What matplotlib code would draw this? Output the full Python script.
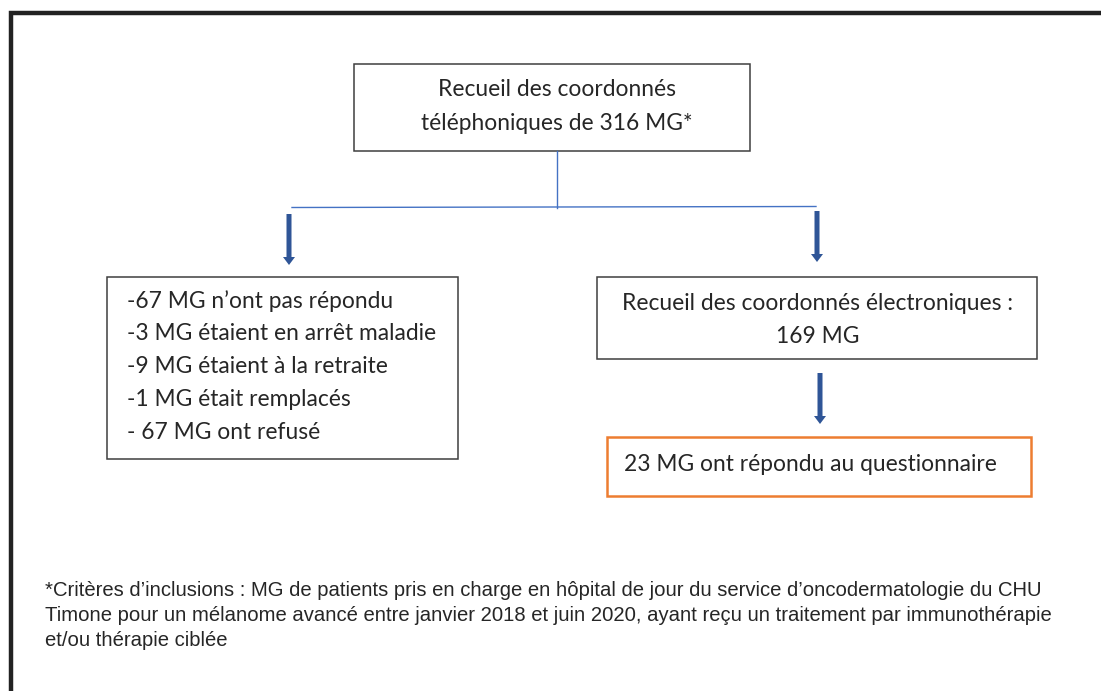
import matplotlib
matplotlib.use("Agg")
import matplotlib.pyplot as plt
from matplotlib.patches import Rectangle, FancyArrow

# Flowchart counts (number of GPs, "MG")
n_total = 316
exclusions = [67, 3, 9, 1, 67]
exclusion_labels = ["-{} MG n\u2019ont pas répondu",
                    "-{} MG étaient en arrêt maladie",
                    "-{} MG étaient à la retraite",
                    "-{} MG était remplacés",
                    "- {} MG ont refusé"]
n_email = 169
n_answered = 23

footnote_lines = [
    "*Critères d\u2019inclusions : MG de patients pris en charge en hôpital de jour du service d\u2019oncodermatologie du CHU",
    "Timone pour un mélanome avancé entre janvier 2018 et juin 2020, ayant reçu un traitement par immunothérapie",
    "et/ou thérapie ciblée",
]

box_font = "Lato"
box_size = 16.4
text_col = "#262626"
edge_col = "#3f3f3f"
blue_line = "#4472C4"
arrow_col = "#2F5597"
orange = "#ED7D31"

fig = plt.figure(figsize=(11.01, 6.91), dpi=100)
ax = fig.add_axes([0, 0, 1, 1])
ax.set_xlim(0, 1101)
ax.set_ylim(691, 0)
ax.axis("off")

# outer frame (only left and top edges visible)
ax.plot([10.5, 10.5, 1101], [691, 13, 13], color="#222222", lw=3.2,
        solid_joinstyle="miter")

def box(x0, y0, x1, y1, color=edge_col, lw=1.1):
    ax.add_patch(Rectangle((x0, y0), x1 - x0, y1 - y0, fill=False,
                           edgecolor=color, lw=lw))

# top box
box(354, 64, 750, 151)
ax.text(557, 89, "Recueil des coordonnés", ha="center", va="center",
        family=box_font, size=box_size, color=text_col)
ax.text(557, 123, "téléphoniques de {} MG*".format(n_total), ha="center",
        va="center", family=box_font, size=box_size, color=text_col)

# connectors
ax.plot([557, 557], [151, 208], color=blue_line, lw=1)
ax.plot([292, 816], [207.5, 206.5], color=blue_line, lw=1)

def arrow(x, y0, y1):
    ax.add_patch(FancyArrow(x, y0, 0, y1 - y0, width=5, head_width=12,
                            head_length=8, length_includes_head=True,
                            color=arrow_col, lw=0))

arrow(289, 214, 265)
arrow(817, 211, 262)

# left box: exclusions
box(107, 277, 458, 459)
for i, (lab, n) in enumerate(zip(exclusion_labels, exclusions)):
    ax.text(127, 301 + i * 32.8, lab.format(n), ha="left", va="center",
            family=box_font, size=box_size, color=text_col)

# right box: e-mail addresses
box(597, 277, 1037, 359)
ax.text(818, 303, "Recueil des coordonnés électroniques :", ha="center",
        va="center", family=box_font, size=box_size, color=text_col)
ax.text(818, 336, "{} MG".format(n_email), ha="center", va="center",
        family=box_font, size=box_size, color=text_col)

arrow(820, 373, 424)

# orange box: answers
box(607, 437, 1031, 496, color=orange, lw=1.8)
ax.text(624, 464, "{} MG ont répondu au questionnaire".format(n_answered),
        ha="left", va="center", family=box_font, size=box_size, color=text_col)

# footnote
for i, line in enumerate(footnote_lines):
    ax.text(45, 590 + i * 25.5, line, ha="left", va="center",
            family="Liberation Sans", size=14.6, color="#262626")

fig.savefig("out.png", dpi=100)
